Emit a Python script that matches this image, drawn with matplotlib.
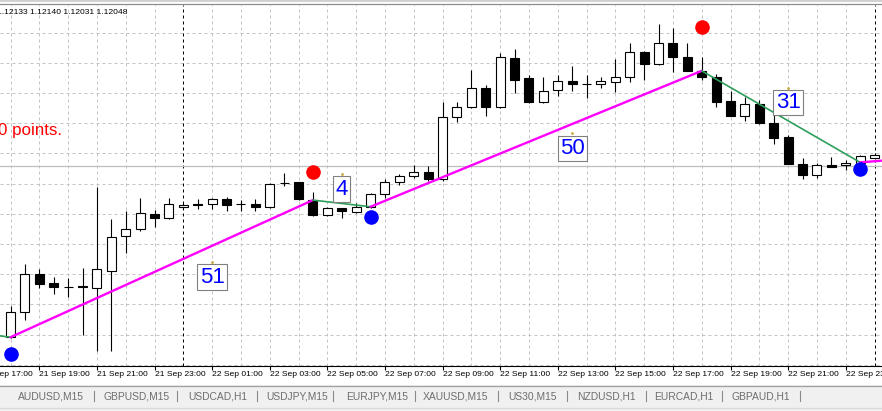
import matplotlib
matplotlib.use('Agg')
import matplotlib.pyplot as plt
import matplotlib.transforms as mtransforms
from matplotlib.lines import Line2D
from matplotlib.patches import Rectangle
import pandas as pd
import numpy as np

plt.rcParams['font.family'] = ['Liberation Sans', 'DejaVu Sans']

# ---------------- data ----------------
start_time = pd.Timestamp('2016-09-21 18:00')
bar_minutes = 30

opens = [1.11391, 1.11476, 1.11599, 1.11570, 1.11557, 1.11559, 1.11555, 1.11611, 1.11726, 1.11748,
         1.11799, 1.11785, 1.11821, 1.11828, 1.11832, 1.11848, 1.11831, 1.11831, 1.11821, 1.11901,
         1.11904, 1.11845, 1.11796, 1.11818, 1.11807, 1.11823, 1.11865, 1.11904, 1.11925, 1.11939,
         1.11914, 1.12119, 1.12152, 1.12217, 1.12152, 1.12315, 1.12250, 1.12169, 1.12210, 1.12239,
         1.12229, 1.12229, 1.12235, 1.12254, 1.12334, 1.12295, 1.12364, 1.12318, 1.12273, 1.12254,
         1.12173, 1.12124, 1.12162, 1.12101, 1.12053, 1.11965, 1.11928, 1.11961, 1.11961, 1.11967,
         1.11985]
highs = [1.11495, 1.11633, 1.11616, 1.11591, 1.11588, 1.11621, 1.11889, 1.11782, 1.11809, 1.11853,
         1.11812, 1.11851, 1.11835, 1.11848, 1.11853, 1.11856, 1.11845, 1.11848, 1.11901, 1.11934,
         1.11905, 1.11871, 1.11823, 1.11819, 1.11834, 1.11868, 1.11915, 1.11931, 1.11961, 1.11958,
         1.12171, 1.12171, 1.12276, 1.12226, 1.12331, 1.12345, 1.12259, 1.12254, 1.12259, 1.12290,
         1.12259, 1.12254, 1.12311, 1.12364, 1.12340, 1.12428, 1.12414, 1.12364, 1.12318, 1.12263,
         1.12206, 1.12185, 1.12176, 1.12127, 1.12061, 1.11985, 1.11969, 1.11989, 1.11978, 1.11993,
         1.12000]
lows = [1.11388, 1.11448, 1.11555, 1.11534, 1.11523, 1.11398, 1.11345, 1.11345, 1.11671, 1.11743,
        1.11757, 1.11781, 1.11816, 1.11815, 1.11815, 1.11810, 1.11810, 1.11810, 1.11820, 1.11892,
        1.11845, 1.11794, 1.11792, 1.11785, 1.11801, 1.11820, 1.11851, 1.11895, 1.11917, 1.11909,
        1.11909, 1.12105, 1.12151, 1.12125, 1.12151, 1.12201, 1.12166, 1.12167, 1.12190, 1.12207,
        1.12184, 1.12215, 1.12204, 1.12235, 1.12243, 1.12294, 1.12270, 1.12271, 1.12243, 1.12154,
        1.12122, 1.12108, 1.12096, 1.12030, 1.11963, 1.11914, 1.11917, 1.11955, 1.11945, 1.11965,
        1.11984]
closes = [1.11474, 1.11599, 1.11566, 1.11558, 1.11556, 1.11557, 1.11616, 1.11722, 1.11748, 1.11803,
          1.11785, 1.11832, 1.11829, 1.11832, 1.11848, 1.11829, 1.11831, 1.11821, 1.11898, 1.11901,
          1.11848, 1.11796, 1.11818, 1.11809, 1.11821, 1.11865, 1.11904, 1.11925, 1.11939, 1.11914,
          1.12121, 1.12154, 1.12217, 1.12152, 1.12318, 1.12243, 1.12169, 1.12207, 1.12240, 1.12229,
          1.12229, 1.12239, 1.12254, 1.12334, 1.12295, 1.12364, 1.12318, 1.12273, 1.12254, 1.12171,
          1.12124, 1.12162, 1.12099, 1.12052, 1.11965, 1.11928, 1.11961, 1.11956, 1.11967, 1.11992,
          1.11994]

# zigzag pivots (bar index, price)
zz_index = [-10, 0, 21, 25, 48, 59, 62]
zz_price = [1.11452, 1.11391, 1.11845, 1.11823, 1.12273, 1.11970, 1.11981]
seg_labels = ['51', '4', '50', '31']
seg_label_index = [14, 23, 39, 54]
seg_label_price = [1.11640, 1.11931, 1.12066, 1.12217]

hi_dot_index = [21, 48]
hi_dot_price = [1.11937, 1.12419]
lo_dot_index = [0, 25, 59]
lo_dot_price = [1.11334, 1.11788, 1.11947]

bid_price = 1.11959
grid_prices = [1.1130, 1.1140, 1.1150, 1.1160, 1.1170, 1.1180, 1.1190,
               1.1200, 1.1210, 1.1220, 1.1230, 1.1240]

header_text = '1.12133 1.12140 1.12031 1.12048'
info_text = '0 points.'
tick_labels = ['21 Sep 17:00', '21 Sep 19:00', '21 Sep 21:00', '21 Sep 23:00',
               '22 Sep 01:00', '22 Sep 03:00', '22 Sep 05:00', '22 Sep 07:00',
               '22 Sep 09:00', '22 Sep 11:00', '22 Sep 13:00', '22 Sep 15:00',
               '22 Sep 17:00', '22 Sep 19:00', '22 Sep 21:00', '22 Sep 23:00']
tab_names = ['AUDUSD,M15', 'GBPUSD,M15', 'USDCAD,H1', 'USDJPY,M15', 'EURJPY,M15',
             'XAUUSD,M15', 'US30,M15', 'NZDUSD,H1', 'EURCAD,H1', 'GBPAUD,H1']

# ---------------- layout ----------------
W, H = 882, 411
axis_px = 366
top_px = 5
bar_px = 14.4
first_bar_px = 10.5
tab_x = [18, 104, 188, 266, 346, 423, 508, 577, 654, 732]
tab_sep = [94, 177, 257, 333, 415, 498, 567, 646, 722, 800]

n = len(opens)
idx = np.arange(n)
times = pd.date_range(start_time, periods=n, freq=f'{bar_minutes}min')

fig = plt.figure(figsize=(W / 100, H / 100), dpi=100)
fig.patch.set_facecolor('white')
ax = fig.add_axes([0, (H - axis_px) / H, 1, (axis_px - top_px) / H])
ax.set_facecolor('white')

xl = -first_bar_px / bar_px
xr = (W - first_bar_px) / bar_px
ax.set_xlim(xl, xr)

# y range from pixel scale: grid every 0.001 = 30.2 px, 1.1200 at y=153.3 px
px_per_price = 30.2 / 0.001
ytop = 1.1200 + (153.3 - top_px) / px_per_price
ybot = 1.1200 - (axis_px - 153.3) / px_per_price
ax.set_ylim(ybot, ytop)

for s in ['top', 'left', 'right']:
    ax.spines[s].set_visible(False)
ax.spines['bottom'].set_color('black')
ax.spines['bottom'].set_linewidth(0.8)
ax.set_yticks([])

# grid
for gp in grid_prices:
    ax.axhline(gp, color='#C4C4C4', lw=0.72, ls=(0, (3, 3)), zorder=0)
day_sep = [i for i in range(n) if times[i].hour == 0 and times[i].minute == 0]
for i in range(n):
    if times[i].minute == 0:
        if i in day_sep:
            ax.axvline(i, color='black', lw=0.72, ls=(0, (3, 3)), zorder=1)
        else:
            ax.axvline(i, color='#C4C4C4', lw=0.72, ls=(0, (3, 3)), zorder=0)

ax.axhline(bid_price, color='#BEBEBE', lw=0.9, zorder=1)

# candles
o = np.array(opens); c = np.array(closes)
hgh = np.array(highs); lw_ = np.array(lows)
ax.vlines(idx, lw_, hgh, color='black', lw=0.8, zorder=2)
fc = ['white' if c[i] >= o[i] else 'black' for i in range(n)]
ax.bar(idx, np.abs(c - o), bottom=np.minimum(o, c), width=0.62, color=fc,
       edgecolor='black', linewidth=0.8, zorder=3)

# zigzag
for k in range(len(zz_index) - 1):
    col = '#FF00FF' if zz_price[k + 1] > zz_price[k] else '#2E9E5B'
    lwid = 1.7 if col == '#FF00FF' else 1.2
    ax.plot(zz_index[k:k + 2], zz_price[k:k + 2], color=col, lw=lwid,
            solid_capstyle='round', zorder=4)

ax.plot(hi_dot_index, hi_dot_price, 'o', color='#FF0000', ms=10.5, mec='none', zorder=5)
ax.plot(lo_dot_index, lo_dot_price, 'o', color='#0000FF', ms=10.5, mec='none', zorder=5)

# segment labels
off = mtransforms.ScaledTranslation(0, -4.5 / 100, fig.dpi_scale_trans)
for s, xi, yp in zip(seg_labels, seg_label_index, seg_label_price):
    ax.plot([xi], [yp], 'o', ms=2, color='#C8A838', mec='none', zorder=6)
    ax.text(xi, yp, s, ha='center', va='top', fontsize=16, color='#0000FF',
            transform=ax.transData + off, zorder=7,
            bbox=dict(boxstyle='square,pad=0.1', fc='white', ec='#808080', lw=0.8))

# x ticks + labels
tick_pos = []
for lab in tick_labels:
    t = pd.to_datetime(f'{start_time.year} ' + lab, format='%Y %d %b %H:%M')
    tick_pos.append((t - start_time) / pd.Timedelta(minutes=bar_minutes))
in_range = [p for p in tick_pos if xl <= p <= xr]
ax.set_xticks(in_range)
ax.set_xticklabels([])
ax.tick_params(axis='x', direction='out', length=3, width=0.8, color='black')
lab_off = mtransforms.ScaledTranslation(0, -8.3 / 100, fig.dpi_scale_trans)
for p, lab in zip(tick_pos, tick_labels):
    ax.text(p, 0, lab, ha='left', va='center', fontsize=6.1, color='black',
            transform=ax.get_xaxis_transform() + lab_off, clip_on=False)

# header and info texts
fig.text(-3 / W, 1 - 12.5 / H, header_text, ha='left', va='center', fontsize=6.1, color='black')
fig.text(-2 / W, 1 - 131 / H, info_text, ha='left', va='center', fontsize=12.2, color='#FF0000')

# top frame lines
fig.add_artist(Line2D([0, 1], [1 - 0.8 / H] * 2, color='#C8C8C8', lw=1.2, transform=fig.transFigure))
fig.add_artist(Line2D([0, 1], [1 - 3.8 / H] * 2, color='#8C8C8C', lw=0.9, transform=fig.transFigure))

# tab bar
fig.add_artist(Rectangle((0, 0), 1, (H - 385) / H, transform=fig.transFigure,
                         fc='#F0F0F0', ec='none', zorder=0))
fig.add_artist(Line2D([0, 1], [(H - 385.5) / H] * 2, color='#A0A0A0', lw=0.9, transform=fig.transFigure))
fig.add_artist(Line2D([0, 1], [(H - 408) / H] * 2, color='#D8D8D8', lw=0.9, transform=fig.transFigure))
for name, xp in zip(tab_names, tab_x):
    fig.text(xp / W, (H - 396) / H, name, ha='left', va='center', fontsize=7.4, color='#6E6E6E')
for xp in tab_sep:
    fig.add_artist(Line2D([xp / W] * 2, [(H - 391) / H, (H - 401) / H], color='#8A8A8A', lw=0.8,
                          transform=fig.transFigure))

fig.savefig('out.png', dpi=100)
